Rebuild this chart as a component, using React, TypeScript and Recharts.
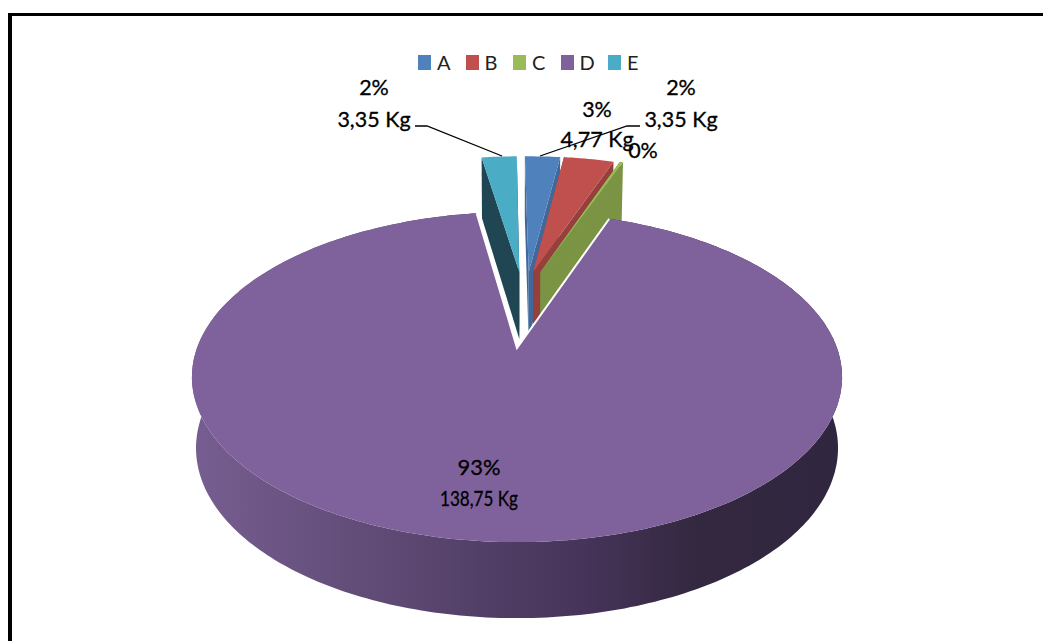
import { PieChart, Pie, Legend } from 'recharts';

const CATEGORIES = ['A', 'B', 'C', 'D', 'E'];
const WEIGHTS = [3.35, 4.77, 0.3, 138.75, 3.35];
const PERCENTS = ['2%', '3%', '0%', '93%', '2%'];
const WEIGHT_LABELS = ['3,35 Kg', '4,77 Kg', '', '138,75 Kg', '3,35 Kg'];
const TOP_COLORS = ['#4F81BD', '#C0504D', '#9BBB59', '#7F629C', '#4BACC6'];
const SIDE_COLORS = ['#41689A', '#963F3D', '#7A9444', '#4E3C62', '#1F4652'];

const tableData = CATEGORIES.map((name, i) => ({ name, value: WEIGHTS[i], fill: TOP_COLORS[i] }));

// Exploded offset of each slice on the pie's plane, in radii
const EXPLODE = [
  [0.04, 0.518],
  [0.055, 0.518],
  [0.08, 0.518],
  [0, 0],
  [0.008, 0.518],
];
// Where each label sits: [x, first baseline, second baseline]
const LABEL_SPOTS = [
  [681, 95, 127],
  [597, 117, 147],
  [643, 158, 0],
  [479, 475, 506],
  [374, 95, 127],
];
const LEADERS: Record<string, string> = {
  A: '640,126 627,126 540,156',
  E: '415,126 427,126 502,156',
};

const PERSPECTIVE = 0.1758;
const FONT = 'Lato, sans-serif';

type Pt = [number, number];

// Perspective projection of plane coordinates (u right, v toward the back)
function topPoint(cx: number, cy: number, r: number, u: number, v: number): Pt {
  const w = 1 + PERSPECTIVE * v;
  return [cx + (2 * r * u) / w, cy - (r * v) / w];
}
function bottomPoint(cx: number, cy: number, r: number, u: number, v: number): Pt {
  const w = 1 + PERSPECTIVE * v;
  return [cx + (1.975 * r * u) / w, cy - (r * v) / w + 70 - 6 * v];
}

const toPath = (pts: Pt[]) =>
  'M' + pts.map((p) => `${p[0].toFixed(1)},${p[1].toFixed(1)}`).join('L') + 'Z';

function rimCoords(startAngle: number, endAngle: number, ex: number, ey: number) {
  const steps = Math.max(2, Math.ceil(Math.abs(endAngle - startAngle)));
  return Array.from({ length: steps + 1 }, (_, i) => {
    const a = ((90 - (startAngle + ((endAngle - startAngle) * i) / steps)) * Math.PI) / 180;
    return [Math.sin(a) + ex, Math.cos(a) + ey];
  });
}

function Slice3D(props: any) {
  const { cx, cy, outerRadius: r, startAngle, endAngle, name, fill } = props;
  const idx = CATEGORIES.indexOf(name);
  const [ex, ey] = EXPLODE[idx];
  const rim = rimCoords(startAngle, endAngle, ex, ey);
  const top = rim.map(([u, v]) => topPoint(cx, cy, r, u, v));
  const low = rim.map(([u, v]) => bottomPoint(cx, cy, r, u, v));
  const apexTop = topPoint(cx, cy, r, ex, ey);
  const apexLow = bottomPoint(cx, cy, r, ex, ey);
  const side = SIDE_COLORS[idx];
  const last = rim.length - 1;

  if (name === 'D') {
    return (
      <g>
        <defs>
          <linearGradient id="wallShade" gradientUnits="userSpaceOnUse" x1={192} x2={842} y1={0} y2={0}>
            <stop offset="0" stopColor="#775E91" />
            <stop offset="0.3" stopColor="#5E4A74" />
            <stop offset="0.6" stopColor="#46345A" />
            <stop offset="0.78" stopColor="#33283F" />
            <stop offset="1" stopColor="#302640" />
          </linearGradient>
        </defs>
        <path d={toPath([...top, ...[...low].reverse()])} fill="url(#wallShade)" />
        <path d={toPath([apexTop, ...top])} fill={fill} />
        <polyline
          points={[top[last], apexTop, top[0]].map((p) => p.join(',')).join(' ')}
          fill="none"
          stroke="#fff"
          strokeWidth={2}
        />
      </g>
    );
  }

  return (
    <g>
      <path d={toPath([apexTop, top[0], low[0], apexLow])} fill={side} />
      <path d={toPath([apexTop, top[last], low[last], apexLow])} fill={side} />
      <path d={toPath([apexTop, ...top])} fill={fill} />
    </g>
  );
}

const BackSlice = (props: any) => (props.name === 'D' ? <g /> : <Slice3D {...props} />);
const FrontSlice = (props: any) => (props.name === 'D' ? <Slice3D {...props} /> : <g />);

function SliceLabel(props: any) {
  const idx = CATEGORIES.indexOf(props.name);
  const [x, y1, y2] = LABEL_SPOTS[idx];
  const leader = LEADERS[props.name];
  const isD = props.name === 'D';
  const textStyle = { fontFamily: FONT, fontSize: 21.5, stroke: '#000', strokeWidth: 0.3 };
  return (
    <g>
      {leader && <polyline points={leader} fill="none" stroke="#000" strokeWidth={1.3} />}
      <text x={x} y={y1} textAnchor="middle" fill="#000" style={textStyle} {...(isD ? { textLength: 43, lengthAdjust: 'spacingAndGlyphs' } : {})}>
        {PERCENTS[idx]}
      </text>
      {WEIGHT_LABELS[idx] && (
        <text x={x} y={y2} textAnchor="middle" fill="#000" style={textStyle} {...(isD ? { textLength: 78, lengthAdjust: 'spacingAndGlyphs' } : {})}>
          {WEIGHT_LABELS[idx]}
        </text>
      )}
    </g>
  );
}

function LegendRow({ payload }: any) {
  // both Pie layers report their sectors, keep each category once
  const items = (payload || []).filter(
    (item: any, i: number, all: any[]) => all.findIndex((o) => o.value === item.value) === i,
  );
  return (
    <div style={{ display: 'flex', fontFamily: FONT, fontSize: 20, color: '#222', lineHeight: '16px' }}>
      {items.map((item: any) => (
        <div key={item.value} style={{ width: 47.5, display: 'flex', alignItems: 'center' }}>
          <span style={{ width: 13, height: 15, background: item.color, marginRight: 6, display: 'inline-block' }} />
          {item.value}
        </div>
      ))}
    </div>
  );
}

export default function App() {
  return (
    <div style={{ position: 'absolute', left: 0, top: 0, width: 1043, height: 641, overflow: 'hidden', background: '#fff' }}>
      <div style={{ position: 'absolute', left: 8, top: 13, right: -10, bottom: -10, borderLeft: '4px solid #000', borderTop: '3px solid #000' }} />
      <PieChart
        width={1043}
        height={641}
        margin={{ top: 0, right: 0, bottom: 0, left: 0 }}
        style={{ position: 'absolute', left: 0, top: 0 }}
      >
        <Legend content={<LegendRow />} wrapperStyle={{ left: 418, top: 54, width: 260, bottom: 'auto' }} />
        <Pie
          data={tableData}
          dataKey="value"
          nameKey="name"
          cx={517}
          cy={348}
          outerRadius={160}
          startAngle={90.5}
          endAngle={-269.5}
          shape={BackSlice}
          stroke="none"
          isAnimationActive={false}
        />
        <Pie
          data={tableData}
          dataKey="value"
          nameKey="name"
          cx={517}
          cy={348}
          outerRadius={160}
          startAngle={90.5}
          endAngle={-269.5}
          shape={FrontSlice}
          stroke="none"
          legendType="none"
          label={SliceLabel}
          labelLine={false}
          isAnimationActive={false}
        />
      </PieChart>
    </div>
  );
}
